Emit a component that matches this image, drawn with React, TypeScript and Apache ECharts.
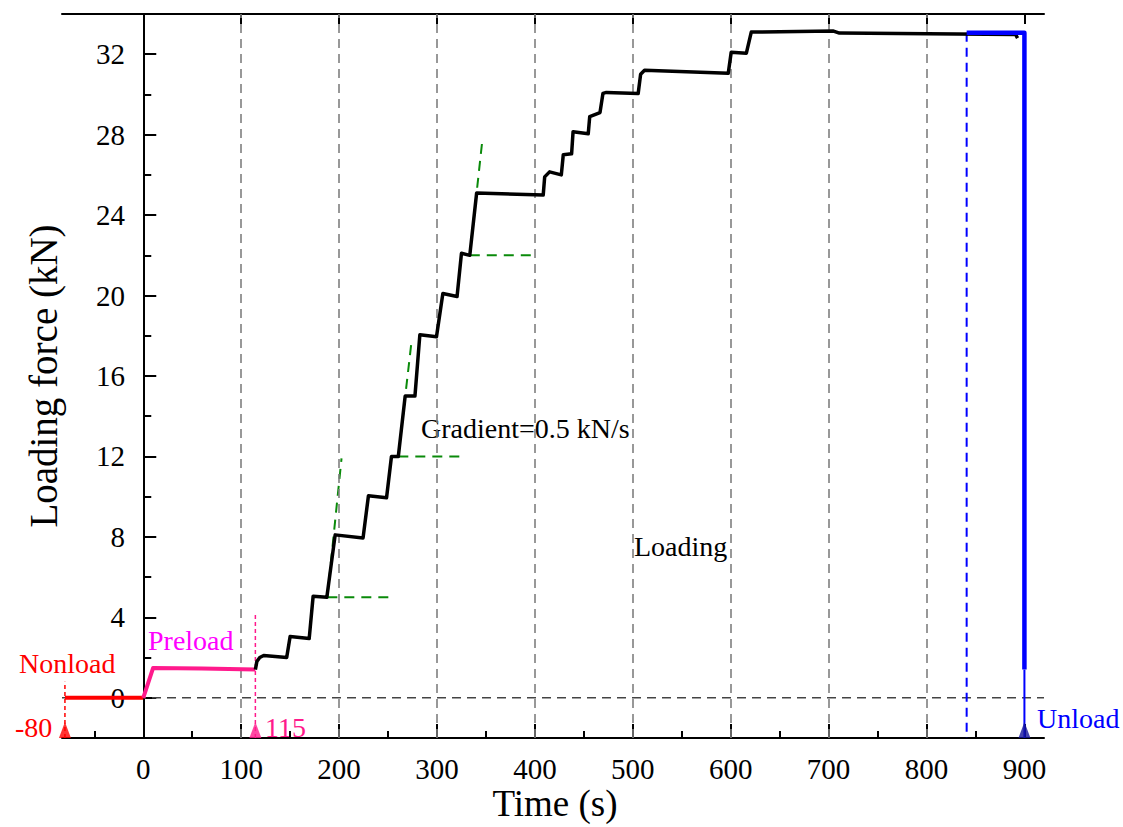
import React, { useEffect, useRef } from 'react';
import * as echarts from 'echarts';

const X_MIN = -83;
const X_MAX = 920;
const Y_MIN = -2;
const Y_MAX = 34;

const xMajorTicks = [0, 100, 200, 300, 400, 500, 600, 700, 800, 900];
const xMinorTicks = [-50, 50, 150, 250, 350, 450, 550, 650, 750, 850];
const yMajorTicks = [0, 4, 8, 12, 16, 20, 24, 28, 32];
const yMinorTicks = [2, 6, 10, 14, 18, 22, 26, 30];
const gridLinesX = [100, 200, 300, 400, 500, 600, 700, 800];

const nonload = [[-80, 0], [0, 0]];
const preload = [[0, 0], [10, 1.48], [60, 1.45], [114.5, 1.4]];
const loading = [
  [114.5, 1.4], [116, 1.8], [119, 2.0], [123, 2.1], [146.5, 2.0], [150, 3.05], [169.5, 2.95],
  [173.5, 5.05], [187.5, 5.0], [196, 8.1], [224.5, 7.95], [230, 10.05], [248.5, 9.95],
  [253.5, 12.0], [260.5, 12.0], [267.5, 15.0], [277.5, 15.0], [282.5, 18.05], [299.5, 17.95],
  [306, 20.1], [320.5, 19.95], [325, 22.1], [333.5, 22.0], [340.5, 25.1], [408.5, 25.0],
  [410, 25.9], [415, 26.15], [427, 26.0], [429, 27.0], [437.5, 27.05], [439, 28.15],
  [454.5, 28.05], [456, 28.9], [466.5, 29.1], [469.5, 30.05], [473, 30.1], [505.5, 30.05],
  [508, 31.0], [512, 31.2], [597.5, 31.05], [600.5, 32.1], [616, 32.05], [621, 33.1],
  [705, 33.15], [711, 33.05], [891, 32.98], [893, 32.8],
];
const unloadThick = [[841, 33.07], [900, 33.07], [900, 1.4]];
const unloadThin = [[900, 1.4], [900, -2]];
const unloadStartMark = [[841, 33.07], [841, -2]];
const nonloadMark = [[-80, -2], [-80, 0.8]];
const preloadMark = [[114.5, -2], [114.5, 4.2]];
const zeroLine = [[X_MIN, 0], [X_MAX, 0]];
const gradientLines = [
  [[188, 5], [253.5, 5]],
  [[188, 5], [202.5, 11.9]],
  [[260.5, 12], [325, 12]],
  [[260.5, 12], [274.2, 17.8]],
  [[333.5, 22], [397.5, 22]],
  [[333.5, 22], [346.5, 27.8]],
];
const trianglePoints = [[-80, -2], [114.5, -2], [900, -2]];
const triangleColors = ['#ff0000', '#ff1a8c', '#14149c'];

const FONT = '"Liberation Serif", "Times New Roman", serif';

export default function App() {
  const ref = useRef<HTMLDivElement>(null);
  useEffect(() => {
    document.body.style.margin = '0';
    const chart = echarts.init(ref.current!, undefined, { renderer: 'svg' });

    const lineSeries = (data: number[][], color: string, width: number, type: any = 'solid', z = 3) => ({
      type: 'line',
      data,
      showSymbol: false,
      symbol: 'none',
      silent: true,
      z,
      lineStyle: { color, width, type, cap: 'butt', join: 'round' },
    });

    const textStyleBase = { fontFamily: FONT, fontSize: 28 };

    chart.setOption({
      animation: false,
      backgroundColor: '#ffffff',
      grid: { left: 62, right: 79, top: 14, bottom: 89 },
      xAxis: [
        {
          type: 'value', min: X_MIN, max: X_MAX, position: 'bottom',
          axisLine: { onZero: false, lineStyle: { color: '#000', width: 2 } },
          axisTick: { inside: true, length: 14, customValues: xMajorTicks, lineStyle: { color: '#000', width: 2 } },
          axisLabel: { customValues: xMajorTicks, color: '#000', fontFamily: FONT, fontSize: 29, margin: 16 },
          splitLine: { show: false },
        },
        {
          type: 'value', min: X_MIN, max: X_MAX, position: 'top',
          axisLine: { onZero: false, lineStyle: { color: '#000', width: 2 } },
          axisTick: { inside: true, length: 10, customValues: xMajorTicks, lineStyle: { color: '#000', width: 2 } },
          axisLabel: { show: false },
          splitLine: { show: false },
        },
        {
          type: 'value', min: X_MIN, max: X_MAX, position: 'bottom',
          axisLine: { show: false, onZero: false },
          axisTick: { inside: true, length: 7, customValues: xMinorTicks, lineStyle: { color: '#000', width: 2 } },
          axisLabel: { show: false },
          splitLine: { show: false },
        },
      ],
      yAxis: [
        {
          type: 'value', min: Y_MIN, max: Y_MAX, position: 'left',
          axisLine: { onZero: true, lineStyle: { color: '#000', width: 2 } },
          axisTick: { inside: true, length: 13, customValues: yMajorTicks, lineStyle: { color: '#000', width: 2 } },
          axisLabel: { customValues: yMajorTicks, color: '#000', fontFamily: FONT, fontSize: 29, margin: -63 },
          splitLine: { show: false },
        },
        {
          type: 'value', min: Y_MIN, max: Y_MAX, position: 'left',
          axisLine: { show: false, onZero: true },
          axisTick: { inside: true, length: 8, customValues: yMinorTicks, lineStyle: { color: '#000', width: 2 } },
          axisLabel: { show: false },
          splitLine: { show: false },
        },
      ],
      series: [
        {
          type: 'line', data: [], silent: true, z: 1,
          markLine: {
            silent: true, symbol: 'none', label: { show: false },
            lineStyle: { color: '#7f7f7f', width: 1.6, type: [9, 6] },
            data: gridLinesX.map((v) => ({ xAxis: v })),
          },
        },
        lineSeries(zeroLine, '#444444', 1.6, [9, 6], 2),
        ...gradientLines.map((d) => lineSeries(d, '#0a8a0a', 2, [10, 7], 4)),
        lineSeries(nonloadMark, '#ff0000', 1.5, [4, 3], 3),
        lineSeries(preloadMark, '#ff1a8c', 1.5, [4, 3], 3),
        lineSeries(unloadStartMark, '#0000ff', 2, [9, 6], 3),
        lineSeries(nonload, '#ff0000', 4, 'solid', 5),
        lineSeries(preload, '#ff1a8c', 4, 'solid', 5),
        lineSeries(loading, '#000000', 3.5, 'solid', 5),
        lineSeries(unloadThick, '#0000ff', 4.5, 'solid', 6),
        lineSeries(unloadThin, '#0000ff', 2, 'solid', 6),
        {
          type: 'scatter',
          data: trianglePoints.map((p, i) => ({ value: p, itemStyle: { color: triangleColors[i] } })),
          symbol: 'triangle',
          symbolSize: [12, 16],
          symbolOffset: [0, -8],
          silent: true,
          z: 7,
        },
      ],
      graphic: [
        { type: 'text', x: 43, y: 376, rotation: Math.PI / 2, style: { text: 'Loading force (kN)', fontFamily: FONT, fontSize: 39, fill: '#000', align: 'center', verticalAlign: 'middle' } },
        { type: 'text', x: 555, y: 803, style: { text: 'Time (s)', fontFamily: FONT, fontSize: 37, fill: '#000', align: 'center', verticalAlign: 'middle' } },
        { type: 'text', x: 421, y: 428, style: { text: 'Gradient=0.5 kN/s', ...textStyleBase, fill: '#000', align: 'left', verticalAlign: 'middle' } },
        { type: 'text', x: 634, y: 546, style: { text: 'Loading', ...textStyleBase, fill: '#000', align: 'left', verticalAlign: 'middle' } },
        { type: 'text', x: 148, y: 640, style: { text: 'Preload', ...textStyleBase, fill: '#ff00ff', align: 'left', verticalAlign: 'middle' } },
        { type: 'text', x: 19, y: 663, style: { text: 'Nonload', ...textStyleBase, fill: '#ff0000', align: 'left', verticalAlign: 'middle' } },
        { type: 'text', x: 15, y: 727, style: { text: '-80', ...textStyleBase, fill: '#ff0000', align: 'left', verticalAlign: 'middle' } },
        { type: 'text', x: 265, y: 727, style: { text: '115', ...textStyleBase, fill: '#ff1a8c', align: 'left', verticalAlign: 'middle' } },
        { type: 'text', x: 1037, y: 718, style: { text: 'Unload', ...textStyleBase, fill: '#0000ff', align: 'left', verticalAlign: 'middle' } },
      ],
    });
    return () => chart.dispose();
  }, []);
  return <div ref={ref} style={{ position: 'fixed', left: 0, top: 0, width: 1123, height: 827 }} />;
}
